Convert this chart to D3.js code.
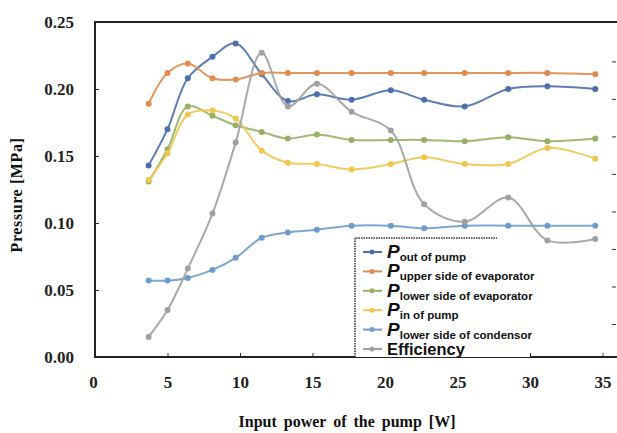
<!DOCTYPE html>
<html>
<head>
<meta charset="utf-8">
<script src="https://cdn.jsdelivr.net/npm/d3@7"></script>
<style>
  body { margin: 0; background: #fff; }
  svg { display: block; }
  .tick text { font-family: "Liberation Serif", "Times New Roman", serif; font-weight: bold; font-size: 17px; fill: #222; }
  .tick line { stroke: #333; }
</style>
</head>
<body>
<div id="chart"></div>
<script>
// Data
const power = [3.7, 5.0, 6.4, 8.1, 9.7, 11.5, 13.3, 15.3, 17.7, 20.4, 22.7, 25.5, 28.5, 31.2, 34.5];
const pOutOfPump = [0.143, 0.170, 0.208, 0.224, 0.234, 0.211, 0.191, 0.196, 0.192, 0.199, 0.192, 0.187, 0.200, 0.202, 0.200];
const pUpperEvap = [0.189, 0.212, 0.219, 0.208, 0.207, 0.212, 0.212, 0.212, 0.212, 0.212, 0.212, 0.212, 0.212, 0.212, 0.211];
const pLowerEvap = [0.131, 0.155, 0.187, 0.180, 0.173, 0.168, 0.163, 0.166, 0.162, 0.162, 0.162, 0.161, 0.164, 0.161, 0.163];
const pInOfPump = [0.132, 0.152, 0.181, 0.184, 0.178, 0.154, 0.145, 0.144, 0.140, 0.144, 0.149, 0.144, 0.144, 0.156, 0.148];
const pLowerCond = [0.057, 0.057, 0.059, 0.065, 0.074, 0.089, 0.093, 0.095, 0.098, 0.098, 0.096, 0.098, 0.098, 0.098, 0.098];
const efficiency = [0.015, 0.035, 0.066, 0.107, 0.160, 0.227, 0.187, 0.204, 0.183, 0.169, 0.114, 0.101, 0.119, 0.087, 0.088];

const seriesSubs = ["out of pump", "upper side of evaporator", "lower side of evaporator", "in of pump", "lower side of condensor", null];
const seriesValues = [pOutOfPump, pUpperEvap, pLowerEvap, pInOfPump, pLowerCond, efficiency];
const seriesColors = ["#4d6fae", "#e08c4e", "#97b067", "#f0c650", "#6e9dcc", "#a0a0a0"];

const xTicks = [0, 5, 10, 15, 20, 25, 30, 35];
const yTicks = [0, 0.05, 0.10, 0.15, 0.20, 0.25];

// Setting up the svg
const width = 617;
const height = 433;
const plot = { left: 95, right: 616, top: 22, bottom: 357 };

const svg = d3.select('#chart').append('svg')
    .attr('width', width)
    .attr('height', height);

const x = d3.scaleLinear().domain([0, 36]).range([plot.left, plot.right + 1]);
const y = d3.scaleLinear().domain([0, 0.25]).range([plot.bottom, plot.top]);
// right side only carries tick marks (no labels visible)
const y2 = d3.scaleLinear().domain([-0.88, 8.05]).range([plot.bottom, plot.top]);

// Axes
const yAxis = svg.append('g')
    .attr('transform', `translate(${plot.left},0)`)
    .call(d3.axisLeft(y).tickValues(yTicks).tickFormat(d3.format('.2f')).tickSize(-4).tickPadding(21));
yAxis.select('.domain').remove();

const xAxis = svg.append('g')
    .attr('transform', `translate(0,${plot.bottom})`)
    .call(d3.axisBottom(x).tickValues(xTicks).tickFormat(d3.format('d')).tickSize(-4).tickPadding(19));
xAxis.select('.domain').remove();
xAxis.selectAll('.tick').filter(d => d === 0).select('text').attr('x', -2);

const rAxis = svg.append('g')
    .attr('transform', `translate(${plot.right},0)`)
    .call(d3.axisRight(y2).tickValues(d3.range(0, 8)).tickSize(-4).tickFormat(''));
rAxis.select('.domain').remove();

// Lines
const line = d3.line()
    .x(d => x(d[0]))
    .y(d => y(d[1]))
    .curve(d3.curveCatmullRom);

seriesValues.forEach((vals, i) => {
    const pts = power.map((p, j) => [p, vals[j]]);
    const g = svg.append('g');
    g.append('path')
        .attr('d', line(pts))
        .attr('fill', 'none')
        .attr('stroke', seriesColors[i])
        .attr('stroke-width', 2)
        .attr('stroke-opacity', 0.9);
    g.selectAll('circle')
        .data(pts)
        .enter().append('circle')
        .attr('cx', d => x(d[0]))
        .attr('cy', d => y(d[1]))
        .attr('r', 3)
        .attr('fill', seriesColors[i]);
});

// Frame
svg.append('rect')
    .attr('x', plot.left)
    .attr('y', plot.top)
    .attr('width', plot.right - plot.left + 4)
    .attr('height', plot.bottom - plot.top)
    .attr('fill', 'none')
    .attr('stroke', '#222')
    .attr('stroke-width', 2);

// Legend
const legend = svg.append('g').attr('transform', 'translate(355,238)');
legend.append('rect')
    .attr('x', 0).attr('y', 0)
    .attr('width', 175).attr('height', plot.bottom - 238)
    .attr('fill', '#fff');
legend.append('path')
    .attr('d', 'M0,' + (plot.bottom - 238) + 'V0H142')
    .attr('fill', 'none')
    .attr('stroke', '#333')
    .attr('stroke-width', 1.5)
    .attr('stroke-dasharray', '1.5,1');

const rowY = d3.scaleLinear().domain([0, 5]).range([14, 111]);
seriesSubs.forEach((sub, i) => {
    const row = legend.append('g').attr('transform', `translate(0,${rowY(i)})`);
    row.append('line')
        .attr('x1', 8).attr('x2', 27)
        .attr('stroke', seriesColors[i]).attr('stroke-width', 2);
    row.append('circle').attr('cx', 17).attr('r', 2.5).attr('fill', seriesColors[i]);
    const t = row.append('text')
        .attr('x', 32)
        .attr('y', 6)
        .style('font-family', '"Liberation Sans", Arial, sans-serif')
        .style('font-weight', 'bold')
        .attr('fill', '#111');
    if (sub) {
        t.append('tspan').text('P')
            .style('font-size', '19px').style('font-style', 'italic');
        t.append('tspan').text(sub)
            .attr('dy', 3)
            .style('font-size', '11.5px');
    } else {
        t.text('Efficiency').style('font-size', '16.5px');
    }
});

// Axis titles
svg.append('text')
    .attr('transform', 'translate(22,195) rotate(-90)')
    .attr('text-anchor', 'middle')
    .style('font-family', '"Liberation Serif", "Times New Roman", serif')
    .style('font-weight', 'bold')
    .style('font-size', '16px')
    .style('letter-spacing', '0.6px')
    .attr('fill', '#111')
    .text('Pressure [MPa]');

svg.append('text')
    .attr('x', 347)
    .attr('y', 427)
    .attr('text-anchor', 'middle')
    .style('font-family', '"Liberation Serif", "Times New Roman", serif')
    .style('font-weight', 'bold')
    .style('font-size', '16px')
    .style('word-spacing', '3px')
    .attr('fill', '#111')
    .text('Input power of the pump [W]');
</script>
</body>
</html>
